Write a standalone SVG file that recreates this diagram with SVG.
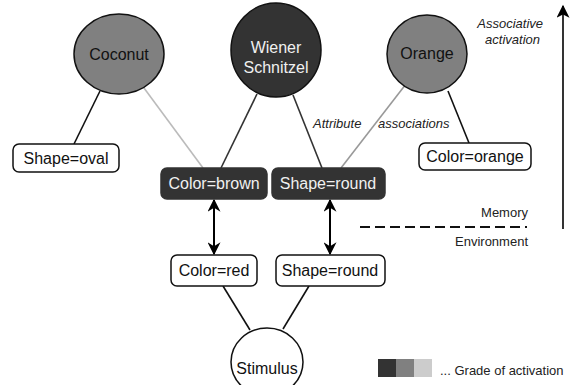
<svg xmlns="http://www.w3.org/2000/svg" width="571" height="385" viewBox="0 0 571 385">
<style>
text{font-family:"Liberation Sans",Arial,sans-serif;}
.lbl{font-size:16px;text-anchor:middle;fill:#111;}
.lt{fill:#f0f0f0;}
.it{font-size:13px;font-style:italic;fill:#222;}
.sm{font-size:13px;fill:#222;}
.wb{fill:#fff;stroke:#111;stroke-width:1.5;}
.db{fill:#333;stroke:#333;stroke-width:1.5;}
.ln{stroke-width:1.6;fill:none;}
</style>
<defs>
<marker id="ah" viewBox="0 0 10 10" refX="9" refY="5" markerWidth="15" markerHeight="13" markerUnits="userSpaceOnUse" orient="auto-start-reverse">
<path d="M0,0 L10,5 L0,10 L3,5 Z" fill="#000"/>
</marker>
<marker id="ah2" viewBox="0 0 10 10" refX="9" refY="5" markerWidth="17" markerHeight="13" markerUnits="userSpaceOnUse" orient="auto">
<path d="M0,0 L10,5 L0,10 L2.5,5 Z" fill="#000"/>
</marker>
</defs>
<rect width="571" height="385" fill="#fff"/>
<g id="connectors">
<line class="ln" x1="100" y1="91" x2="74" y2="144" stroke="#111"/>
<line class="ln" x1="144" y1="88" x2="203" y2="168" stroke="#bbb"/>
<line class="ln" x1="257" y1="94" x2="221" y2="168" stroke="#333"/>
<line class="ln" x1="293" y1="95" x2="322" y2="168" stroke="#333"/>
<line class="ln" x1="406" y1="84" x2="341" y2="168" stroke="#999"/>
<line class="ln" x1="448" y1="91" x2="469" y2="143" stroke="#111"/>
<line class="ln" x1="223" y1="286" x2="250" y2="330" stroke="#111"/>
<line class="ln" x1="309" y1="286" x2="283" y2="329" stroke="#111"/>
<line x1="214" y1="200" x2="214" y2="254" stroke="#000" stroke-width="2" marker-start="url(#ah)" marker-end="url(#ah)"/>
<line x1="330" y1="200" x2="330" y2="254" stroke="#000" stroke-width="2" marker-start="url(#ah)" marker-end="url(#ah)"/>
</g>
<g id="coconut"><ellipse cx="119" cy="54" rx="45" ry="40" fill="#808080" stroke="#111" stroke-width="1.5"/><text class="lbl" x="119" y="60">Coconut</text></g>
<g id="wiener"><ellipse cx="276" cy="50" rx="45" ry="47" fill="#333" stroke="#111" stroke-width="1.5"/><text class="lbl lt" x="276" y="53">Wiener</text><text class="lbl lt" x="276" y="73">Schnitzel</text></g>
<g id="orange"><ellipse cx="427" cy="54" rx="40" ry="39" fill="#808080" stroke="#111" stroke-width="1.5"/><text class="lbl" x="427" y="59">Orange</text></g>
<g id="shape-oval"><rect class="wb" x="13" y="144" width="106" height="28" rx="6"/><text class="lbl" x="66" y="164">Shape=oval</text></g>
<g id="color-brown"><rect class="db" x="161" y="168" width="106" height="31" rx="6"/><text class="lbl lt" x="214" y="189">Color=brown</text></g>
<g id="shape-round-mem"><rect class="db" x="272" y="168" width="113" height="31" rx="6"/><text class="lbl lt" x="328" y="189">Shape=round</text></g>
<g id="color-orange"><rect class="wb" x="419" y="143" width="112" height="27" rx="6"/><text class="lbl" x="475" y="162">Color=orange</text></g>
<g id="color-red"><rect class="wb" x="171" y="255" width="86" height="31" rx="6"/><text class="lbl" x="214" y="276">Color=red</text></g>
<g id="shape-round-env"><rect class="wb" x="276" y="255" width="109" height="31" rx="6"/><text class="lbl" x="330" y="276">Shape=round</text></g>
<g id="stimulus"><ellipse cx="267" cy="362" rx="36" ry="34" fill="#fff" stroke="#111" stroke-width="1.5"/><text class="lbl" x="267" y="374">Stimulus</text></g>
<g id="labels">
<text class="it" x="313" y="128">Attribute</text>
<text class="it" x="378" y="128">associations</text>
<text class="it" x="543" y="28" text-anchor="end">Associative</text>
<text class="it" x="540" y="44" text-anchor="end">activation</text>
<text class="sm" x="528" y="217" text-anchor="end">Memory</text>
<text class="sm" x="528" y="246" text-anchor="end">Environment</text>
<line x1="360" y1="227" x2="527" y2="227" stroke="#111" stroke-width="2" stroke-dasharray="10,5"/>
<line x1="563" y1="229" x2="563" y2="6" stroke="#000" stroke-width="1.6" marker-end="url(#ah2)"/>
</g>
<g id="legend">
<rect x="378" y="359" width="18" height="18" fill="#333"/>
<rect x="396" y="359" width="18" height="18" fill="#808080"/>
<rect x="414" y="359" width="18" height="18" fill="#ccc"/>
<text class="sm" x="440" y="375">... Grade of activation</text>
</g>
</svg>
